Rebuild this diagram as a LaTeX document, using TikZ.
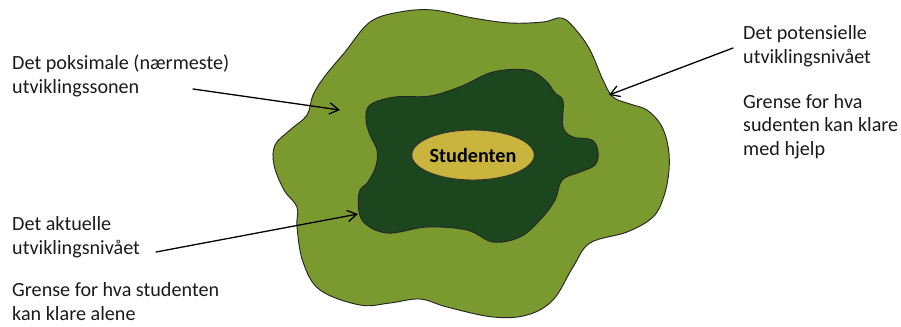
\documentclass[tikz,border=0pt]{standalone}
\usepackage{fontspec}
\setmainfont{Carlito}
\usepackage{tikz}
\usetikzlibrary{arrows.meta,shapes.geometric}
\definecolor{zonegreen}{HTML}{7A9A30}
\definecolor{levelgreen}{HTML}{1C461E}
\definecolor{studentgold}{HTML}{C9B43E}
\definecolor{noteink}{HTML}{1A1A1A}
\tikzset{
every picture/.style={line cap=round,line join=round},
blob edge/.style={draw=black!85, line width=0.8pt},
% base anchor sits on the last line of a note
note text/.style={anchor=base west, align=left, inner sep=0pt,
  font=\fontsize{17.2}{20}\selectfont, text=noteink},
pointer/.style={draw=black, line width=1.1pt,
  -{Straight Barb[length=2.8mm,width=3.4mm]}},
student node/.style={ellipse, draw=black!80, line width=0.8pt, fill=studentgold,
  minimum width=3.2cm, minimum height=1.5cm, inner sep=0pt,
  font=\fontsize{17.2}{20}\selectfont\bfseries}
}

\begin{document}
\begin{tikzpicture}[x=0.03cm,y=-0.03cm]
\useasboundingbox (0,0) rectangle (901,326);
% outer zone
\draw[blob edge, fill=zonegreen] plot[smooth cycle, tension=0.6] coordinates {
(313,95) (325,76) (345,52) (370,22) (400,12) (433,10) (473,18) (510,23)
(543,22) (562,18) (576,30) (590,50) (603,80) (613,97) (630,104) (647,110)
(661,125) (668,146) (669,170) (664,196) (653,217) (627,232) (590,243)
(573,267) (553,300) (527,315) (493,317) (447,307) (420,299) (390,303)
(360,305) (320,290) (303,262) (297,227) (297,207) (284,190)
(274,165) (275,145) (290,130) (307,115)};
% actual level
\draw[blob edge, fill=levelgreen] plot[smooth cycle, tension=0.6] coordinates {
(370,105) (395,97) (430,96) (462,86) (493,72) (527,70) (545,80) (555,93)
(563,101) (563,127) (573,137) (592,140) (598,152) (595,165) (580,172)
(562,180) (555,200) (540,220) (520,237) (493,242) (467,230) (427,227)
(387,233) (362,220) (359,193) (368,182) (376,166)
(377,150) (370,135) (366,120)};
\node[student node] (student) at (473,155) {Studenten};

% labels
\node[note text] (zone) at (12,93) {Det poksimale (nærmeste)\\utviklingssonen};
\node[note text] (actual) at (12,254) {Det aktuelle\\utviklingsnivået};
\node[note text] (actualnote) at (12,320) {Grense for hva studenten\\kan klare alene};
\node[note text] (potential) at (743,63) {Det potensielle\\utviklingsnivået};
\node[note text] (potentialnote) at (743,155) {Grense for hva\\sudenten kan klare\\med hjelp};

% pointers
\coordinate (zone start) at (193,89);
\coordinate (zone tip) at (340,110);
\coordinate (actual start) at (156,252);
\coordinate (actual tip) at (358,214);
\coordinate (potential start) at (733,48);
\coordinate (potential tip) at (609,95);
\draw[pointer] (zone start) -- (zone tip);
\draw[pointer] (actual start) -- (actual tip);
\draw[pointer] (potential start) -- (potential tip);
\end{tikzpicture}
\end{document}
